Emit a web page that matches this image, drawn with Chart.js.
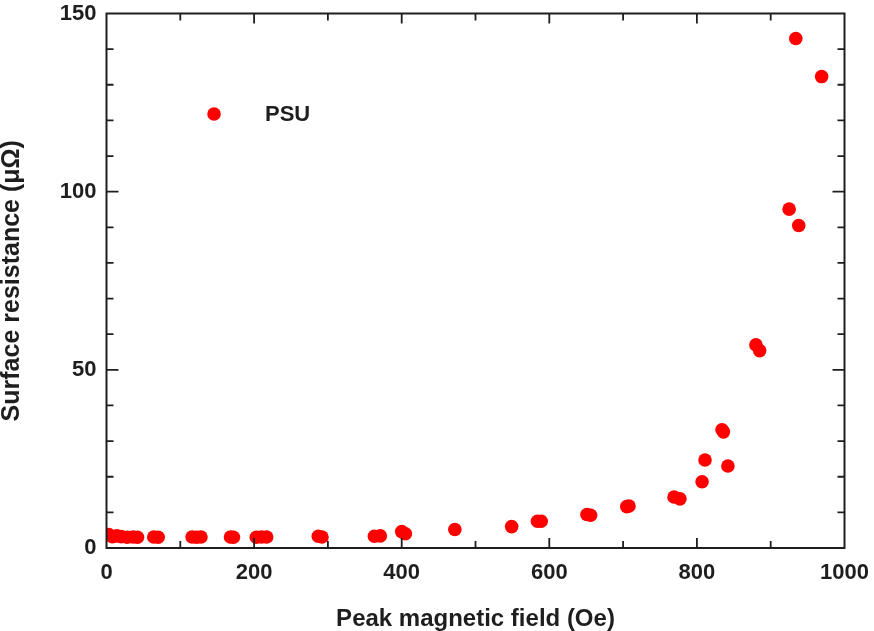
<!DOCTYPE html>
<html>
<head>
<meta charset="utf-8">
<script src="https://cdn.jsdelivr.net/npm/chart.js@4/dist/chart.umd.min.js"></script>
<style>
  html, body { margin: 0; padding: 0; background: #ffffff; }
  #wrap { width: 874px; height: 631px; position: relative; }
</style>
</head>
<body>
<div id="wrap"><canvas id="c"></canvas></div>
<script>
// ---- data ----
const seriesLabel = "PSU";
const fieldOe = [3, 8, 14, 20, 28, 36, 42, 64, 70, 116, 122, 128, 168, 172, 203, 210, 217, 287, 292, 363, 371, 400, 405, 472, 549, 584, 589, 651, 656, 705, 708, 769, 777, 807, 811, 834, 836, 842, 880, 885, 925, 934, 938, 969];
const resistance = [3.8, 3.2, 3.4, 3.2, 3.0, 3.1, 3.0, 3.1, 3.0, 3.1, 3.0, 3.1, 3.1, 3.0, 3.0, 3.1, 3.1, 3.3, 3.1, 3.3, 3.4, 4.6, 4.0, 5.2, 6.0, 7.5, 7.5, 9.4, 9.2, 11.6, 11.8, 14.3, 13.8, 18.6, 24.7, 33.2, 32.6, 23.0, 57.0, 55.4, 95.1, 143.0, 90.5, 132.3];
const xTicks = [0, 200, 400, 600, 800, 1000];
const yTicks = [0, 50, 100, 150];
const xTitle = "Peak magnetic field (Oe)";
const yTitle = "Surface resistance (\u03BC\u03A9)";

const FONT = "'Liberation Sans', Arial, sans-serif";
const INK = "#1e1e1e";

// frame + inward tick marks + in-plot legend
const framePlugin = {
  id: 'frame',
  afterDatasetsDraw(chart) {
    const {ctx, chartArea: a, scales: {x, y}} = chart;
    ctx.save();
    ctx.strokeStyle = INK;
    ctx.lineWidth = 2;
    ctx.strokeRect(a.left, a.top, a.right - a.left, a.bottom - a.top);
    ctx.lineWidth = 1.8;
    ctx.beginPath();
    for (let v = 100; v < 1000; v += 100) {
      const px = x.getPixelForValue(v);
      const len = (v % 200 === 0) ? 10 : 7;
      ctx.moveTo(px, a.bottom); ctx.lineTo(px, a.bottom - len);
      ctx.moveTo(px, a.top); ctx.lineTo(px, a.top + len);
    }
    for (let v = 10; v < 150; v += 10) {
      const py = y.getPixelForValue(v);
      const len = (v % 50 === 0) ? 12 : 7;
      ctx.moveTo(a.left, py); ctx.lineTo(a.left + len, py);
      ctx.moveTo(a.right, py); ctx.lineTo(a.right - len, py);
    }
    ctx.stroke();

    // legend inside plot
    const ds = chart.data.datasets[0];
    const lx = a.left + 0.1457 * (a.right - a.left);
    const ly = a.top + 0.188 * (a.bottom - a.top);
    ctx.fillStyle = ds.backgroundColor;
    ctx.beginPath();
    ctx.arc(lx, ly, 6.8, 0, Math.PI * 2);
    ctx.fill();
    ctx.fillStyle = INK;
    ctx.font = "bold 22px " + FONT;
    ctx.textAlign = 'left';
    ctx.textBaseline = 'middle';
    ctx.fillText(ds.label, lx + 51, ly + 1);
    ctx.restore();
  }
};

new Chart(document.getElementById('c'), {
  type: 'scatter',
  data: {
    datasets: [{
      label: seriesLabel,
      data: fieldOe.map((v, i) => ({x: v, y: resistance[i]})),
      backgroundColor: '#ff0000',
      borderColor: '#ff0000',
      borderWidth: 0,
      pointRadius: 6.8,
      pointHoverRadius: 6.8,
      pointStyle: 'circle'
    }]
  },
  options: {
    responsive: true,
    maintainAspectRatio: false,
    animation: false,
    layout: { padding: { left: 0, right: 29.5, top: 13.5, bottom: 0 } },
    plugins: { legend: { display: false }, tooltip: { enabled: false } },
    scales: {
      x: {
        type: 'linear', position: 'bottom', min: 0, max: 1000,
        grid: { display: false, drawTicks: false }, border: { display: false },
        afterBuildTicks: s => { s.ticks = xTicks.map(v => ({value: v})); },
        ticks: { color: INK, padding: 12, font: { family: FONT, size: 22, weight: 'bold' }, maxRotation: 0,
                 callback: v => String(v) },
        title: { display: true, text: xTitle, color: INK, padding: { top: 0, bottom: 0 },
                 font: { family: FONT, size: 24, weight: 'bold', lineHeight: 1 } },
        afterFit: s => { s.height = 83; s.paddingLeft = 0; s.paddingRight = 0; }
      },
      y: {
        type: 'linear', position: 'left', min: 0, max: 150,
        grid: { display: false, drawTicks: false }, border: { display: false },
        afterBuildTicks: s => { s.ticks = yTicks.map(v => ({value: v})); },
        ticks: { color: INK, padding: 10, font: { family: FONT, size: 22, weight: 'bold' },
                 callback: v => String(v) },
        title: { display: true, text: yTitle, color: INK, padding: { top: 0, bottom: 0 },
                 font: { family: FONT, size: 25, weight: 'bold', lineHeight: 1 } },
        afterFit: s => { s.width = 106.5; s.paddingTop = 0; s.paddingBottom = 0; }
      }
    }
  },
  plugins: [framePlugin]
});
</script>
</body>
</html>
